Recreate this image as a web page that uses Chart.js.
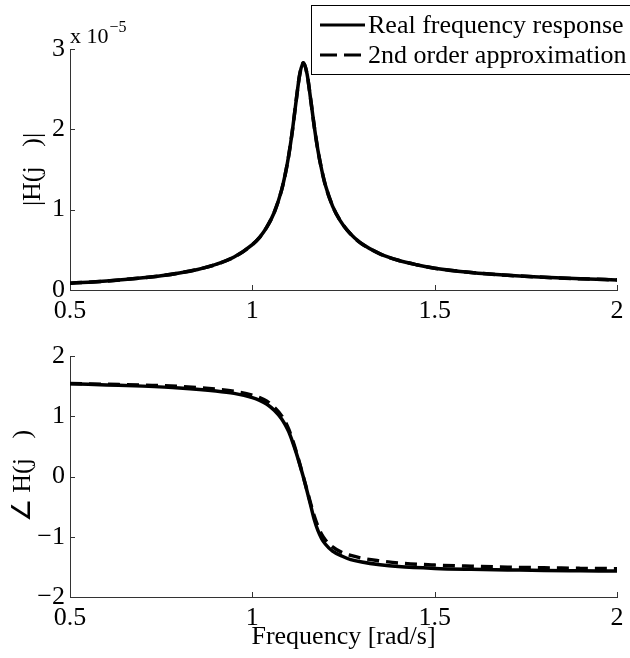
<!DOCTYPE html>
<html><head><meta charset="utf-8">
<script src="https://cdn.jsdelivr.net/npm/chart.js@4.4.1/dist/chart.umd.min.js"></script>
<style>
html,body{margin:0;padding:0;background:#fff;}
#wrap{position:relative;width:630px;height:658px;overflow:hidden;background:#fff;}
canvas{position:absolute;left:0;}
#c1{top:0;}
#c2{top:330px;}
</style></head><body>
<div id="wrap"><canvas id="c1" width="630" height="330"></canvas><canvas id="c2" width="630" height="328"></canvas></div>
<script>
// ---------- data ----------
const seriesNames = ["Real frequency response", "2nd order approximation"];
const xTicks = [0.5, 1, 1.5, 2];
const magTicks = [0, 1, 2, 3];          // ×10^-5
const phaseTicks = [-2, -1, 0, 1, 2];

// Magnitude |H(jω)| in units of 1e-5
const magFreq = [0.50,0.55,0.60,0.65,0.70,0.75,0.80,0.85,0.90,0.95,1.00,1.02,1.04,1.06,1.08,1.09,1.10,1.11,1.12,1.13,1.14,1.15,1.16,1.17,1.18,1.19,1.20,1.22,1.24,1.26,1.28,1.30,1.35,1.40,1.45,1.50,1.60,1.70,1.80,1.90,2.00];
const magReal = [0.085,0.097,0.112,0.13,0.152,0.178,0.212,0.256,0.318,0.41,0.565,0.655,0.785,0.965,1.24,1.435,1.68,1.99,2.35,2.685,2.83,2.69,2.37,2.03,1.735,1.50,1.31,1.045,0.87,0.745,0.65,0.575,0.45,0.37,0.315,0.272,0.218,0.183,0.158,0.14,0.126];
const magApprox = [0.085,0.097,0.112,0.13,0.152,0.178,0.212,0.256,0.318,0.41,0.565,0.655,0.785,0.965,1.24,1.435,1.68,1.99,2.35,2.685,2.83,2.69,2.37,2.03,1.735,1.50,1.31,1.045,0.87,0.745,0.65,0.575,0.45,0.37,0.315,0.272,0.218,0.183,0.158,0.14,0.126];

// Phase ∠H(jω) in rad
const phaseFreq = [0.50,0.60,0.70,0.80,0.90,0.95,1.00,1.02,1.04,1.06,1.08,1.09,1.10,1.11,1.12,1.13,1.14,1.15,1.16,1.17,1.18,1.19,1.20,1.22,1.245,1.27,1.30,1.35,1.40,1.50,1.60,1.70,1.80,1.90,2.00];
const phaseReal = [1.54,1.52,1.50,1.47,1.42,1.38,1.31,1.265,1.20,1.10,0.96,0.86,0.74,0.58,0.40,0.20,-0.01,-0.24,-0.48,-0.72,-0.90,-1.03,-1.12,-1.24,-1.32,-1.38,-1.42,-1.465,-1.495,-1.525,-1.54,-1.55,-1.56,-1.565,-1.57];
const phaseApprox = [1.545,1.53,1.515,1.495,1.45,1.415,1.35,1.31,1.25,1.15,1.01,0.91,0.78,0.61,0.42,0.21,-0.01,-0.23,-0.45,-0.66,-0.83,-0.96,-1.05,-1.17,-1.26,-1.31,-1.355,-1.40,-1.435,-1.47,-1.49,-1.505,-1.515,-1.525,-1.53];

// ---------- helpers ----------
const FONT = '"Liberation Serif", "Times New Roman", Times, serif';
const pts = (xs, ys) => xs.map((x, i) => ({x: x, y: ys[i]}));
const fmtNum = v => String(v).replace('-', '\u2212');

function inwardTicks(id) {
  return {
    id: id,
    afterDatasetsDraw(chart) {
      const {ctx, chartArea: a, scales: {x, y}} = chart;
      ctx.save();
      ctx.strokeStyle = '#333';
      ctx.lineWidth = 1;
      ctx.beginPath();
      x.ticks.forEach(t => {
        const px = Math.round(x.getPixelForValue(t.value)) + 0.5;
        ctx.moveTo(px, a.bottom); ctx.lineTo(px, a.bottom - 5);
      });
      y.ticks.forEach(t => {
        const py = Math.round(y.getPixelForValue(t.value)) + 0.5;
        ctx.moveTo(a.left, py); ctx.lineTo(a.left + 5, py);
      });
      ctx.stroke();
      ctx.restore();
    }
  };
}

function baseOptions(yMin, yMax, yTickVals, padTop, xAxisH) {
  return {
    responsive: false,
    animation: false,
    events: [],
    layout: {padding: {top: padTop, right: 13, left: 0, bottom: 0}},
    plugins: {legend: {display: false}, tooltip: {enabled: false}},
    elements: {point: {radius: 0}, line: {cubicInterpolationMode: 'monotone'}},
    scales: {
      x: {
        type: 'linear', min: 0.5, max: 2,
        afterBuildTicks: s => { s.ticks = xTicks.map(v => ({value: v})); },
        afterFit: s => { s.height = xAxisH; s.paddingLeft = 0; s.paddingRight = 0; },
        grid: {display: true, drawOnChartArea: false, drawTicks: false},
        border: {display: true, color: '#333', width: 1},
        ticks: {font: {family: FONT, size: 26}, color: '#000', padding: 6, maxRotation: 0,
                callback: v => fmtNum(v)}
      },
      y: {
        type: 'linear', min: yMin, max: yMax,
        afterBuildTicks: s => { s.ticks = yTickVals.map(v => ({value: v})); },
        afterFit: s => { s.width = 70; },
        grid: {display: true, drawOnChartArea: false, drawTicks: false},
        border: {display: true, color: '#333', width: 1},
        ticks: {font: {family: FONT, size: 26}, color: '#000', padding: 5,
                callback: v => fmtNum(v)}
      }
    }
  };
}

// ---------- top chart: magnitude ----------
const topText = {
  id: 'topText',
  afterDraw(chart) {
    const ctx = chart.ctx;
    ctx.save();
    ctx.fillStyle = '#000';
    ctx.save();
    ctx.translate(40, 169.5);
    ctx.rotate(-Math.PI / 2);
    ctx.font = '26px ' + FONT;
    ctx.textAlign = 'center';
    ctx.textBaseline = 'alphabetic';
    ctx.fillText('|H(j   )|', 0, 0);
    ctx.restore();
    ctx.font = '22px ' + FONT;
    ctx.textAlign = 'left';
    ctx.textBaseline = 'alphabetic';
    ctx.fillText('x 10', 70, 43);
    const w = ctx.measureText('x 10').width;
    ctx.font = '16px ' + FONT;
    ctx.fillText('\u22125', 70 + w + 1, 32);
    // legend
    ctx.fillStyle = '#fff';
    ctx.fillRect(311, 5, 330, 69);
    ctx.strokeStyle = '#000';
    ctx.lineWidth = 1;
    ctx.strokeRect(311.5, 5.5, 330, 69);
    ctx.lineWidth = 3;
    ctx.beginPath(); ctx.moveTo(320, 25); ctx.lineTo(365, 25); ctx.stroke();
    ctx.setLineDash([17, 7]);
    ctx.beginPath(); ctx.moveTo(320, 55); ctx.lineTo(365, 55); ctx.stroke();
    ctx.setLineDash([]);
    ctx.fillStyle = '#000';
    ctx.font = '26px ' + FONT;
    ctx.fillText(seriesNames[0], 368, 33);
    ctx.fillText(seriesNames[1], 368, 63);
    ctx.restore();
  }
};

new Chart(document.getElementById('c1'), {
  type: 'line',
  data: {datasets: [
    {label: seriesNames[1], data: pts(magFreq, magApprox), borderColor: '#000', borderWidth: 3.5, borderDash: [12, 7], order: 0, fill: false},
    {label: seriesNames[0], data: pts(magFreq, magReal), borderColor: '#000', borderWidth: 3.5, order: 1, fill: false}
  ]},
  options: baseOptions(0, 3, magTicks, 49, 40),
  plugins: [inwardTicks('t1'), topText]
});

// ---------- bottom chart: phase ----------
const bottomText = {
  id: 'bottomText',
  afterDraw(chart) {
    const ctx = chart.ctx;
    ctx.save();
    ctx.fillStyle = '#000';
    ctx.save();
    ctx.translate(30, 146);
    ctx.rotate(-Math.PI / 2);
    ctx.font = '26px ' + FONT;
    ctx.textAlign = 'center';
    ctx.textBaseline = 'alphabetic';
    ctx.fillText('\u2220 H(j   )', 0, 0);
    ctx.restore();
    ctx.font = '26px ' + FONT;
    ctx.textAlign = 'center';
    ctx.textBaseline = 'alphabetic';
    ctx.fillText('Frequency [rad/s]', 343.5, 314);
    ctx.restore();
  }
};

new Chart(document.getElementById('c2'), {
  type: 'line',
  data: {datasets: [
    {label: seriesNames[1], data: pts(phaseFreq, phaseApprox), borderColor: '#000', borderWidth: 3.5, borderDash: [12, 7], order: 0, fill: false},
    {label: seriesNames[0], data: pts(phaseFreq, phaseReal), borderColor: '#000', borderWidth: 3.5, order: 1, fill: false}
  ]},
  options: baseOptions(-2, 2, phaseTicks, 26, 61),
  plugins: [inwardTicks('t2'), bottomText]
});
</script>
</body></html>
